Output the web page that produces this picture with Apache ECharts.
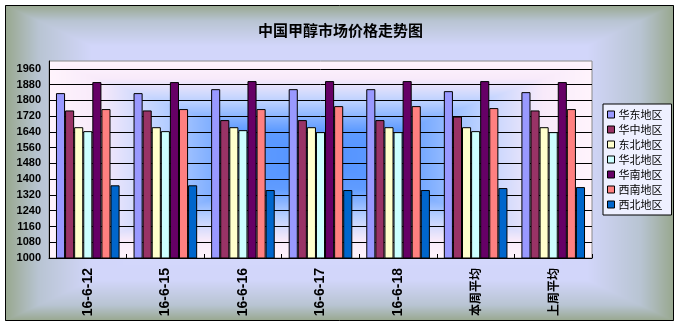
<!DOCTYPE html>
<html>
<head>
<meta charset="utf-8">
<script src="https://cdn.jsdelivr.net/npm/echarts@6/dist/echarts.min.js"></script>
<style>
  html, body { margin: 0; padding: 0; background: #fff; }
  #chart { width: 681px; height: 328px; }
</style>
</head>
<body>
<div id="chart"></div>
<script>
// Categories (dates, weekly averages)
const categories = ['16-6-12', '16-6-15', '16-6-16', '16-6-17', '16-6-18', '本周平均', '上周平均'];

// Regional prices (元/吨)
const huadong  = [1837, 1837, 1857, 1857, 1857, 1847, 1842];
const huazhong = [1749, 1749, 1700, 1700, 1700, 1718, 1749];
const dongbei  = [1664, 1664, 1664, 1664, 1664, 1664, 1664];
const huabei   = [1644, 1644, 1649, 1639, 1639, 1644, 1639];
const huanan   = [1893, 1893, 1898, 1898, 1898, 1898, 1893];
const xinan    = [1756, 1756, 1756, 1771, 1771, 1761, 1756];
const xibei    = [1369, 1369, 1345, 1345, 1345, 1355, 1360];

const seriesNames = ['华东地区', '华中地区', '东北地区', '华北地区', '华南地区', '西南地区', '西北地区'];
const seriesData = [huadong, huazhong, dongbei, huabei, huanan, xinan, xibei];
const seriesColors = ['#9999FF', '#993366', '#FFFFCC', '#CCFFFF', '#660066', '#FF8080', '#0066CC'];

// Value axis range
const yMin = 1000, yMax = 2000, yStep = 80;

const W = 681, H = 328;
const plot = { left: 49, top: 61, width: 543, height: 197 };

// Rectangular "from centre" gradient painted into an offscreen canvas
function paintRectGradient(ctx, x0, y0, w, h, stops) {
  const img = ctx.getImageData(x0, y0, w, h);
  const d = img.data;
  const cx = w / 2, cy = h / 2;
  for (let j = 0; j < h; j++) {
    for (let i = 0; i < w; i++) {
      const t = Math.min(1, Math.max(Math.abs(i + 0.5 - cx) / cx, Math.abs(j + 0.5 - cy) / cy));
      let k = 0;
      while (k < stops.length - 2 && t > stops[k + 1][0]) k++;
      const a = stops[k], b = stops[k + 1];
      const f = (t - a[0]) / (b[0] - a[0] || 1);
      const p = (j * w + i) * 4;
      d[p]     = a[1] + (b[1] - a[1]) * f;
      d[p + 1] = a[2] + (b[2] - a[2]) * f;
      d[p + 2] = a[3] + (b[3] - a[3]) * f;
      d[p + 3] = 255;
    }
  }
  ctx.putImageData(img, x0, y0);
}

const bg = document.createElement('canvas');
bg.width = W; bg.height = H;
const bctx = bg.getContext('2d');
bctx.fillStyle = '#fff';
bctx.fillRect(0, 0, W, H);
paintRectGradient(bctx, 5, 5, 669, 316, [
  [0, 214, 218, 255], [0.74, 210, 214, 250], [0.9, 184, 196, 210], [1, 152, 167, 142]
]);
paintRectGradient(bctx, plot.left, plot.top, plot.width, plot.height, [
  [0, 82, 146, 255], [0.3, 96, 156, 255], [0.58, 185, 208, 255], [0.82, 248, 234, 250], [1, 255, 244, 252]
]);

const chart = echarts.init(document.getElementById('chart'), null, { renderer: 'canvas' });

const isCJK = s => /[\u4e00-\u9fff]/.test(s);

chart.setOption({
  animation: false,
  textStyle: { fontFamily: '"Liberation Sans", Arial, sans-serif' },
  graphic: [
    { type: 'image', z: -100, silent: true, style: { image: bg, x: 0, y: 0, width: W, height: H } },
    { type: 'rect', z: 100, silent: true, shape: { x: 5.5, y: 5.5, width: 668, height: 315 },
      style: { fill: 'none', stroke: '#000', lineWidth: 1 } }
  ],
  title: {
    text: '中国甲醇市场价格走势图',
    left: 'center',
    top: 23,
    padding: 0,
    textStyle: { fontFamily: '"Noto Sans CJK SC", sans-serif', fontSize: 15, fontWeight: 'bold', color: '#000' }
  },
  legend: {
    orient: 'vertical',
    left: 603,
    top: 104,
    padding: [5, 9, 5, 4],
    itemWidth: 7,
    itemHeight: 7,
    itemGap: 4,
    icon: 'rect',
    backgroundColor: '#EEF0FF',
    borderColor: '#000',
    borderWidth: 1,
    borderRadius: 0,
    itemStyle: { borderColor: '#000', borderWidth: 1 },
    textStyle: { fontFamily: '"Noto Sans CJK SC", sans-serif', fontSize: 11, lineHeight: 11, color: '#000', padding: [0, 0, 0, -1] },
    data: seriesNames
  },
  grid: {
    left: plot.left,
    top: plot.top,
    width: plot.width,
    height: plot.height,
    show: true,
    backgroundColor: 'transparent',
    borderColor: '#8a8a8a',
    borderWidth: 1
  },
  xAxis: {
    type: 'category',
    data: categories,
    axisLine: { lineStyle: { color: '#000', width: 1 } },
    axisTick: { show: true, inside: true, length: 4, interval: 0, lineStyle: { color: '#000' } },
    axisLabel: {
      rotate: 90,
      margin: 10,
      interval: 0,
      color: '#000',
      formatter: v => isCJK(v) ? '{c|' + v + '}' : '{d|' + v + '}',
      rich: {
        d: { fontSize: 14, fontWeight: 'bold', color: '#000', fontFamily: '"Liberation Sans", Arial, sans-serif' },
        c: { fontSize: 12, fontWeight: 'bold', color: '#000', fontFamily: '"Noto Sans CJK SC", sans-serif' }
      }
    },
    splitLine: { show: false }
  },
  yAxis: {
    type: 'value',
    min: yMin,
    max: yMax,
    interval: yStep,
    axisLine: { show: true, lineStyle: { color: '#000', width: 1 } },
    axisTick: { show: false },
    axisLabel: { fontSize: 11, fontWeight: 'bold', color: '#000', margin: 8, showMaxLabel: false,
      formatter: v => String(v) },
    splitLine: { show: true, showMinLine: false, showMaxLine: false, lineStyle: { color: '#000', width: 1 } }
  },
  series: seriesNames.map((name, i) => ({
    name,
    type: 'bar',
    data: seriesData[i],
    barGap: '0%',
    barCategoryGap: '18%',
    itemStyle: { color: seriesColors[i], borderColor: '#000', borderWidth: 1 }
  }))
});
</script>
</body>
</html>
